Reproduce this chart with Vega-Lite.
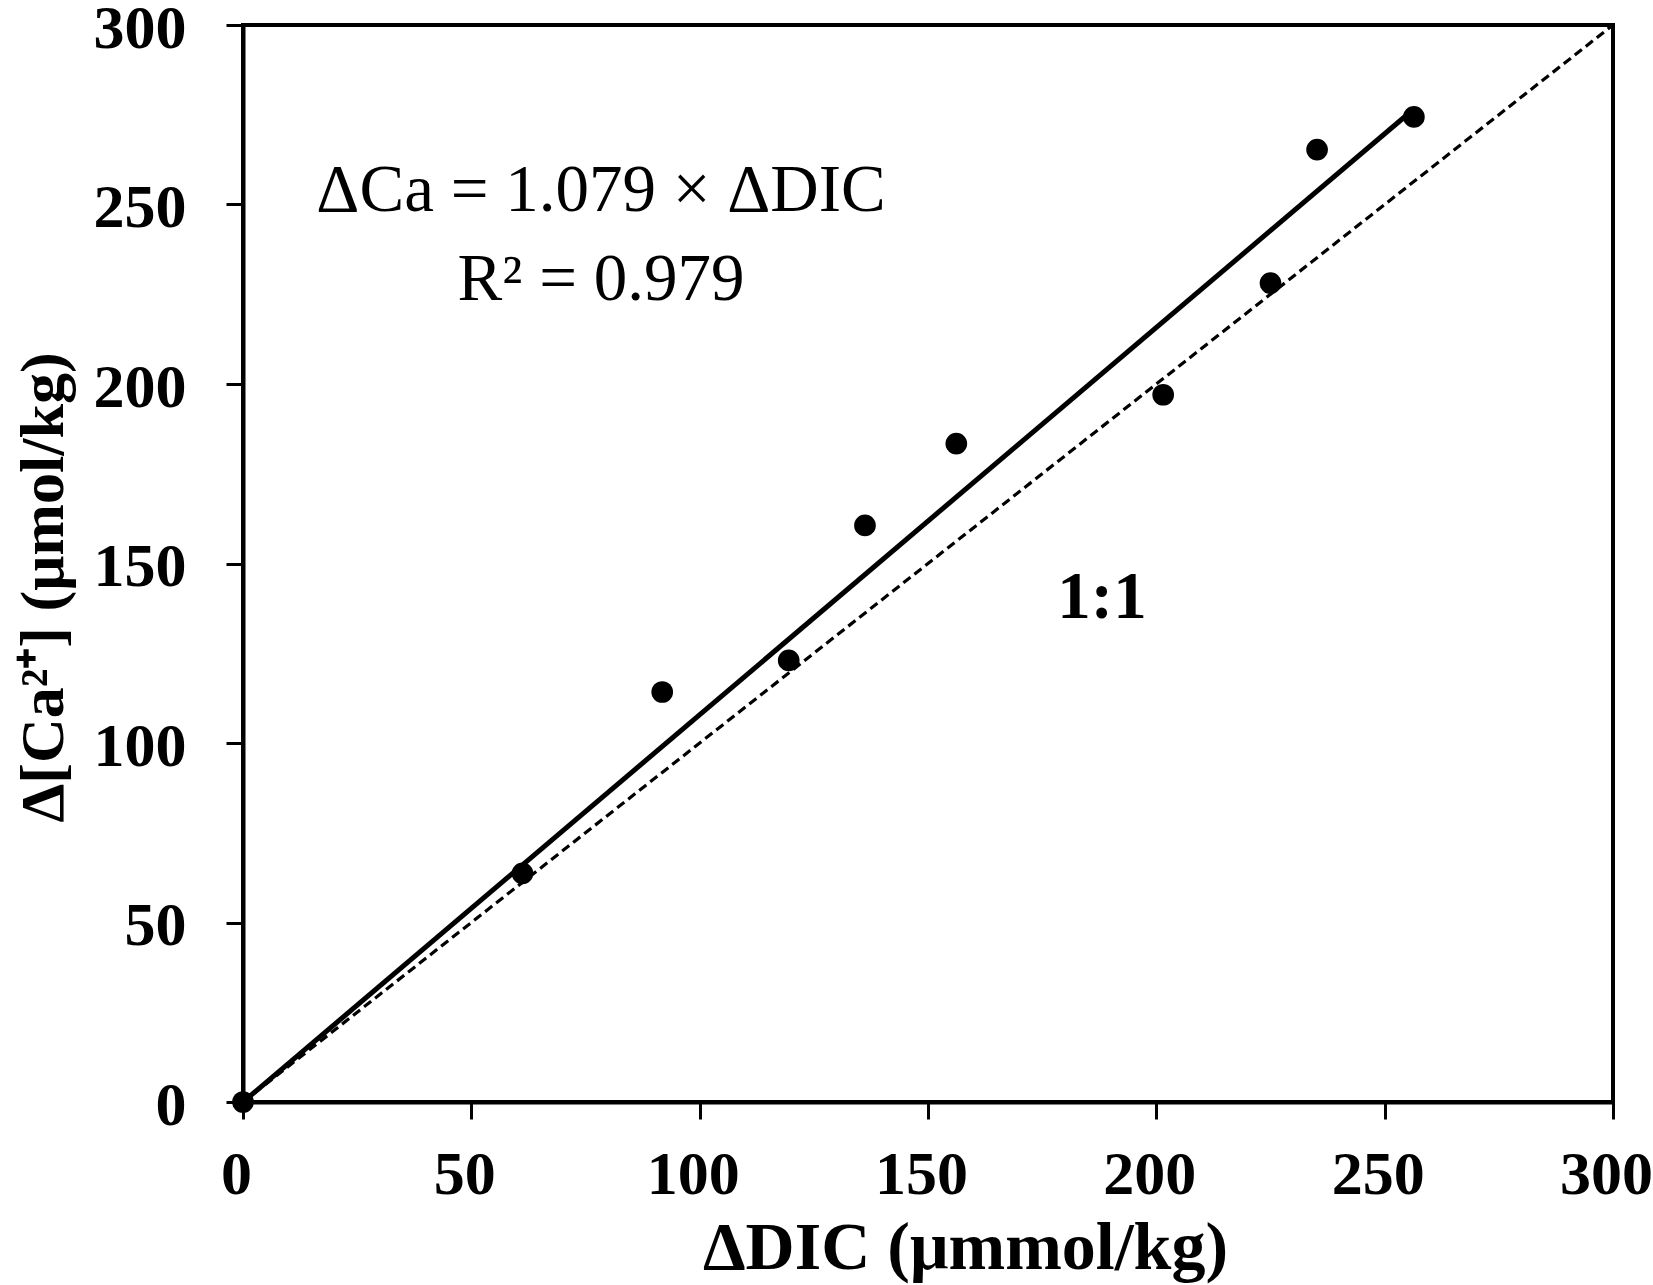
{
  "$schema": "https://vega.github.io/schema/vega-lite/v6.json",
  "description": "Change in calcium against change in DIC, with a fitted line through the origin and a 1:1 line.",
  "width": 1370,
  "height": 1077,
  "autosize": "none",
  "padding": {"left": 243, "top": 25, "right": 40, "bottom": 183},
  "background": "white",
  "config": {
    "font": "Liberation Serif",
    "view": {"stroke": "black", "strokeWidth": 4},
    "axis": {
      "grid": false,
      "domainColor": "black",
      "domainWidth": 4,
      "tickColor": "black",
      "tickWidth": 3,
      "tickSize": 17,
      "labelFont": "Liberation Serif",
      "labelFontWeight": "bold",
      "labelFontSize": 62,
      "labelColor": "black",
      "labelFlush": false,
      "labelOverlap": false,
      "titleFont": "Liberation Serif",
      "titleFontWeight": "bold",
      "titleColor": "black",
      "titleBaseline": "alphabetic",
      "titleAlign": "center"
    }
  },
  "datasets": {
    "samples": [
      {"dic": 0, "ca": 0},
      {"dic": 61.2, "ca": 63.7},
      {"dic": 91.8, "ca": 114.2},
      {"dic": 119.5, "ca": 123.0},
      {"dic": 136.2, "ca": 160.6},
      {"dic": 156.2, "ca": 183.4},
      {"dic": 201.5, "ca": 197.0},
      {"dic": 225.0, "ca": 228.1},
      {"dic": 235.2, "ca": 265.3},
      {"dic": 256.4, "ca": 274.4}
    ],
    "fit": [
      {"dic": 0, "ca": 0},
      {"dic": 256.4, "ca": 276.6}
    ],
    "oneToOne": [
      {"dic": 0, "ca": 0},
      {"dic": 300, "ca": 300}
    ]
  },
  "layer": [
    {
      "data": {"name": "oneToOne"},
      "mark": {"type": "line", "color": "black", "strokeWidth": 3.2, "strokeDash": [9, 5]},
      "encoding": {
        "x": {
          "field": "dic",
          "type": "quantitative",
          "scale": {"domain": [0, 300], "nice": false, "zero": true},
          "axis": {
            "values": [0, 50, 100, 150, 200, 250, 300],
            "labelPadding": 25,
            "labelOffset": -7,
            "title": "ΔDIC (μmmol/kg)",
            "titleFontSize": 68,
            "titleX": 722,
            "titleY": 166
          }
        },
        "y": {
          "field": "ca",
          "type": "quantitative",
          "scale": {"domain": [0, 300], "nice": false, "zero": true},
          "axis": {
            "values": [0, 50, 100, 150, 200, 250, 300],
            "labelPadding": 40,
            "labelBaseline": "middle",
            "labelOffset": 3,
            "title": "Δ[Ca²⁺] (μmol/kg)",
            "titleFontSize": 62,
            "titleX": -181,
            "titleY": 562
          }
        }
      }
    },
    {
      "data": {"name": "fit"},
      "mark": {"type": "line", "color": "black", "strokeWidth": 5},
      "encoding": {
        "x": {"field": "dic", "type": "quantitative"},
        "y": {"field": "ca", "type": "quantitative"}
      }
    },
    {
      "data": {"name": "samples"},
      "mark": {"type": "point", "shape": "circle", "filled": true, "color": "black", "opacity": 1, "size": 470},
      "encoding": {
        "x": {"field": "dic", "type": "quantitative"},
        "y": {"field": "ca", "type": "quantitative"}
      }
    },
    {
      "data": {"values": [{"note": "ΔCa = 1.079 × ΔDIC"}]},
      "mark": {"type": "text", "font": "Liberation Serif", "fontSize": 67, "color": "black", "align": "center", "baseline": "alphabetic"},
      "encoding": {
        "x": {"datum": 78.4, "type": "quantitative"},
        "y": {"datum": 248.2, "type": "quantitative"},
        "text": {"field": "note", "type": "nominal"}
      }
    },
    {
      "data": {"values": [{"note": "R² = 0.979"}]},
      "mark": {"type": "text", "font": "Liberation Serif", "fontSize": 67, "color": "black", "align": "center", "baseline": "alphabetic"},
      "encoding": {
        "x": {"datum": 78.4, "type": "quantitative"},
        "y": {"datum": 223.4, "type": "quantitative"},
        "text": {"field": "note", "type": "nominal"}
      }
    },
    {
      "data": {"values": [{"note": "1:1"}]},
      "mark": {"type": "text", "font": "Liberation Serif", "fontSize": 67, "fontWeight": "bold", "color": "black", "align": "center", "baseline": "alphabetic"},
      "encoding": {
        "x": {"datum": 188.1, "type": "quantitative"},
        "y": {"datum": 134.8, "type": "quantitative"},
        "text": {"field": "note", "type": "nominal"}
      }
    }
  ]
}
